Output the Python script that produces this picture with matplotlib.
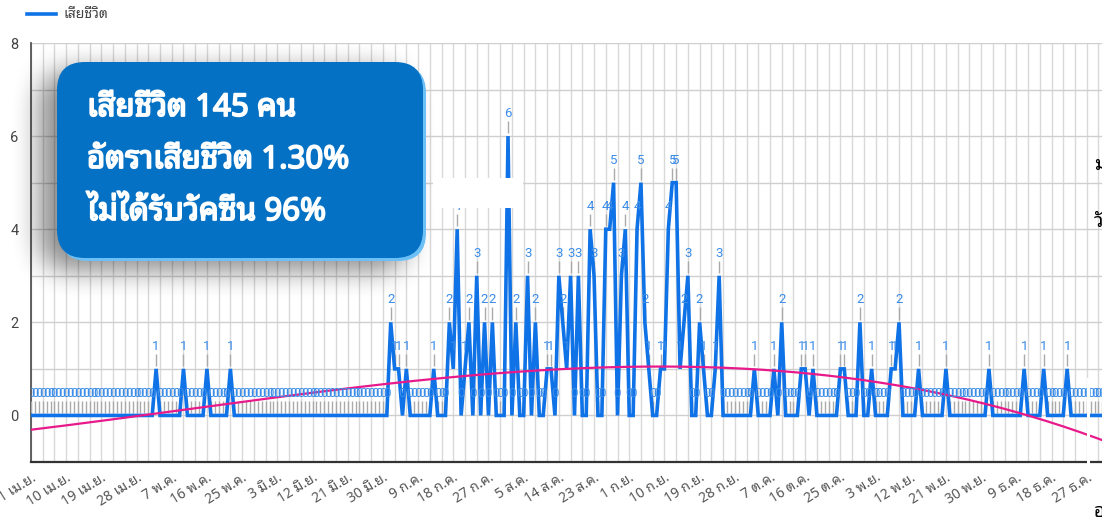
import numpy as np
import pandas as pd
import matplotlib
matplotlib.use('Agg')
import matplotlib.pyplot as plt
import matplotlib.patheffects as pe
from matplotlib import font_manager
from matplotlib.patches import FancyBboxPatch, Rectangle
from matplotlib.transforms import IdentityTransform


# pick an installed family that has Thai glyphs
def thai_family():
    from fontTools.ttLib import TTFont
    found = []
    for fe in font_manager.fontManager.ttflist:
        try:
            tt = TTFont(fe.fname, fontNumber=0, lazy=True)
            if 0x0E40 in tt.getBestCmap():
                found.append(fe.name)
        except Exception:
            pass
    for pref in ['Noto Sans Thai Looped', 'Noto Sans Thai', 'Noto Sans Thai UI', 'Kanit',
                 'Prompt', 'Sarabun', 'Loma', 'Garuda', 'Waree', 'Norasi']:
        if pref in found:
            return pref
    return found[0] if found else 'DejaVu Sans'


THAI = thai_family()
plt.rcParams['font.family'] = [THAI, 'DejaVu Sans']

# data: daily deaths, 1 Apr - 31 Dec (day 0 = 1 Apr)
start = '2021-04-01'
n_days = 275
death_day = [32, 39, 45, 51, 92, 93, 94, 96, 103, 107, 108, 109, 111, 112, 114, 116,
             118, 122, 124, 127, 129, 132, 133, 135, 136, 137, 138, 140, 143, 144,
             147, 148, 149, 151, 152, 155, 156, 157, 158, 161, 162, 163, 164, 165,
             166, 167, 168, 171, 172, 175, 176, 185, 190, 192, 197, 198, 200, 207,
             208, 212, 215, 220, 221, 222, 227, 234, 245, 254, 259, 265]
death_n = [1, 1, 1, 1, 2, 1, 1, 1, 1, 2, 1, 4, 1, 2, 3, 2,
           2, 6, 2, 3, 2, 1, 1, 3, 2, 1, 3, 3, 4, 3,
           4, 4, 5, 3, 4, 4, 5, 2, 1, 1, 1, 4, 5, 5,
           1, 2, 3, 2, 1, 1, 3, 1, 1, 2, 1, 1, 1, 1,
           1, 2, 1, 1, 1, 2, 1, 1, 1, 1, 1, 1]
thai_months = ['ม.ค.', 'ก.พ.', 'มี.ค.', 'เม.ย.', 'พ.ค.', 'มิ.ย.',
               'ก.ค.', 'ส.ค.', 'ก.ย.', 'ต.ค.', 'พ.ย.', 'ธ.ค.']
box_lines = ['เสียชีวิต 145 คน', 'อัตราเสียชีวิต 1.30%', 'ไม่ได้รับวัคซีน 96%']
series_name = 'เสียชีวิต'

dates = pd.date_range(start, periods=n_days, freq='D')
days = np.arange(n_days)
deaths = np.zeros(n_days)
deaths[death_day] = death_n

# polynomial trendline
trend = np.polyval(np.polyfit(days, deaths, 3), days)

W, H = 1102, 526
fig = plt.figure(figsize=(W / 100, H / 100), dpi=100)
ax = fig.add_axes([31 / W, 64 / H, 1071 / W, 419 / H])

blue = '#0f72e6'
lab_blue = '#3a8ce8'
ax.plot(days, trend, color='#e8198b', lw=1.6, zorder=5)
line, = ax.plot(days, deaths, color=blue, lw=2.6, zorder=4, solid_joinstyle='miter')
ax.vlines(days, deaths + 0.06, deaths + 0.32, color='#aaaaaa', lw=1, zorder=3)
for d, v in zip(days, deaths):
    ax.text(d, v + 0.48, str(int(v)), ha='center', va='center', fontsize=9.5,
            color=lab_blue, family=['Roboto', 'DejaVu Sans'], zorder=6, clip_on=True)

ax.set_xlim(0, 1071 / 3.91)
ax.set_ylim(-1, 8)
tick_days = np.arange(0, n_days, 9)
ax.set_xticks(tick_days)
ax.set_xticklabels([f'{dates[i].day} {thai_months[dates[i].month - 1]}' for i in tick_days],
                   rotation=32, ha='right', rotation_mode='anchor', fontsize=10, color='#555')
ax.set_xticks(np.arange(0, n_days, 3), minor=True)
ax.set_yticks([0, 2, 4, 6, 8])
ax.set_yticklabels(['0', '2', '4', '6', '8'], fontsize=10.5, color='#444',
                   family=['Roboto', 'DejaVu Sans'])
ax.set_yticks(np.arange(-1, 9), minor=True)
ax.tick_params(which='both', length=0)
ax.tick_params(axis='y', pad=9)
ax.tick_params(axis='x', pad=6)
ax.grid(which='both', axis='x', color='#d9d9d9', lw=1, zorder=0)
ax.grid(which='both', axis='y', color='#cfcfcf', lw=1, zorder=0)
ax.set_axisbelow(True)
for s in ['top', 'right']:
    ax.spines[s].set_visible(False)
ax.spines['left'].set_color('#555')
ax.spines['left'].set_linewidth(1.3)
ax.spines['bottom'].set_color('#333')
ax.spines['bottom'].set_linewidth(1.6)

ax.legend([line], [series_name], loc='center left', bbox_to_anchor=(27 / W, 1 - 15 / H),
          bbox_transform=fig.transFigure, frameon=False, fontsize=10, handlelength=2.1,
          handletextpad=0.5, borderpad=0, borderaxespad=0, labelcolor='#444')

# soft shadow behind the info box
yy, xx = np.mgrid[0:H, 0:W]
x0, y0, x1, y1, r = 57 - 18, 62 + 8, 423 - 16, 258 + 12, 28
cx = np.clip(xx, x0 + r, x1 - r)
cy = np.clip(yy, y0 + r, y1 - r)
mask = (((xx - cx) ** 2 + (yy - cy) ** 2) <= r * r).astype(float)
k = np.ones(31) / 31
for _ in range(2):
    mask = np.apply_along_axis(lambda v: np.convolve(v, k, mode='same'), 1, mask)
    mask = np.apply_along_axis(lambda v: np.convolve(v, k, mode='same'), 0, mask)
shadow = np.zeros((H, W, 4))
shadow[..., 3] = mask * 0.45
fig.figimage(shadow, 0, 0, origin='upper', zorder=8)

# info box
bx, by, bw, bh = 57, H - 258, 366, 196
pix = IdentityTransform()
fig.add_artist(FancyBboxPatch((bx + 3, by - 3), bw, bh, boxstyle='round,pad=0,rounding_size=28',
                              transform=pix, fc='#6cc0f6', ec='none', zorder=9))
fig.add_artist(FancyBboxPatch((bx, by), bw, bh, boxstyle='round,pad=0,rounding_size=28',
                              transform=pix, fc='#0471c4', ec='none', zorder=10))
for i, t in enumerate(box_lines):
    fig.text(87 / W, 1 - (108 + 52 * i) / H, t, color='white', fontsize=22.5,
             fontweight='bold', ha='left', va='center', zorder=11,
             path_effects=[pe.withStroke(linewidth=1.3, foreground='white')])

# white patch and cut-off text at the right edge
fig.add_artist(Rectangle((433, H - 208), 90, 30, transform=pix, fc='white', ec='none', zorder=12))
fig.add_artist(Rectangle((1087, H - 468), 2.5, 90, transform=pix, fc='white', ec='none', zorder=12))
for t, yp in [('ม', 165), ('วั', 222), ('อ', 512)]:
    fig.text(1094 / W, 1 - yp / H, t, color='black', fontsize=14, fontweight='bold',
             ha='left', va='center', zorder=12)

fig.savefig('out.png', dpi=100)
